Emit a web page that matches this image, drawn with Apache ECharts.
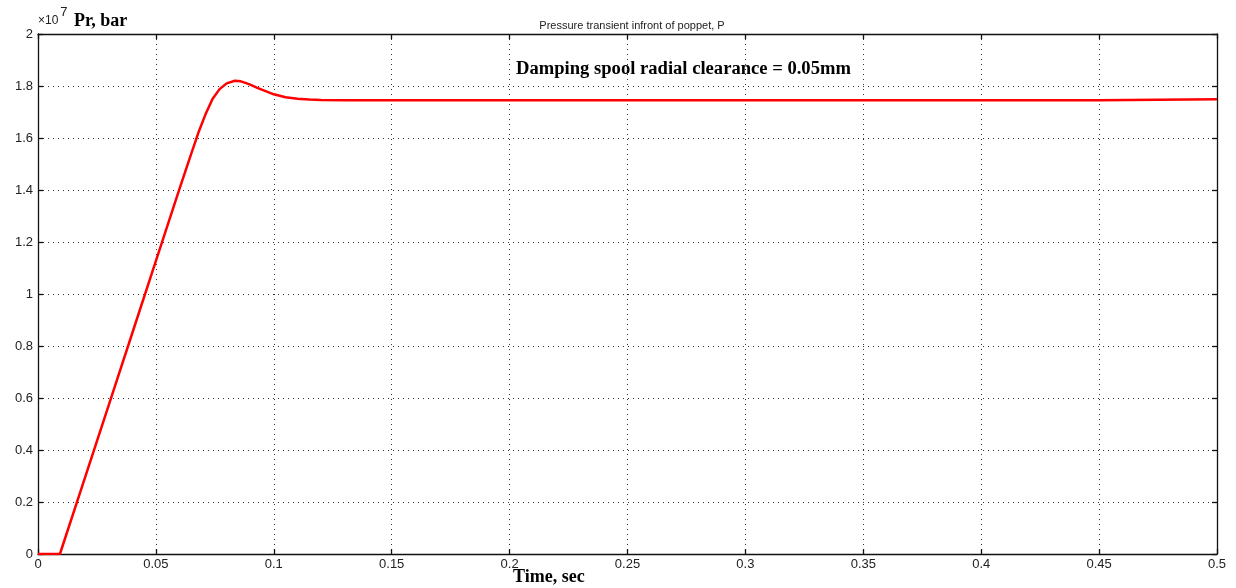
<!DOCTYPE html>
<html>
<head>
<meta charset="utf-8">
<script src="https://cdn.jsdelivr.net/npm/echarts@6/dist/echarts.min.js"></script>
<style>
html,body{margin:0;padding:0;background:#fff;}
#chart{width:1236px;height:588px;}
</style>
</head>
<body>
<div id="chart"></div>
<script>
// Time (s) and pressure (x10^7) samples
const timeSec = [0, 0.0093, 0.02, 0.03, 0.04, 0.05, 0.06, 0.065, 0.068, 0.071, 0.074, 0.077, 0.08, 0.0835, 0.086, 0.088, 0.09, 0.093, 0.096, 0.1, 0.105, 0.11, 0.115, 0.12, 0.13, 0.2, 0.3, 0.4, 0.45, 0.4502, 0.5];
const pressure = [0, 0, 0.296, 0.573, 0.85, 1.127, 1.404, 1.54, 1.62, 1.69, 1.75, 1.788, 1.81, 1.82, 1.818, 1.812, 1.805, 1.793, 1.782, 1.768, 1.757, 1.751, 1.748, 1.746, 1.745, 1.745, 1.745, 1.745, 1.745, 1.749, 1.749];
const xTicks = ["0","0.05","0.1","0.15","0.2","0.25","0.3","0.35","0.4","0.45","0.5"];
const yTicks = ["0","0.2","0.4","0.6","0.8","1","1.2","1.4","1.6","1.8","2"];
const titleText = "Pressure transient infront of poppet, P";
const annotationText = "Damping spool radial clearance = 0.05mm";
const xName = "Time, sec";
const yName = "Pr, bar";

const seriesData = timeSec.map((t, i) => [t, pressure[i]]);
const chart = echarts.init(document.getElementById('chart'), null, {renderer: 'canvas'});
const axisLine = {show: true, onZero: false, lineStyle: {color: '#111', width: 1.3}};
const tick = {show: true, inside: true, length: 5, lineStyle: {color: '#111', width: 1.3}};
const grid = {left: 38, right: 19, top: 34, bottom: 34};
const gridStyle = {show: true, lineStyle: {color: '#333', type: [1, 4], width: 1}};
const labelFont = {fontFamily: 'Liberation Sans, Arial', fontSize: 13, color: '#222'};
chart.setOption({
  animation: false,
  backgroundColor: '#fff',
  grid: grid,
  title: {
    text: titleText, left: 627, top: 15, textAlign: 'center',
    textStyle: {fontFamily: 'Liberation Sans, Arial', fontSize: 11, fontWeight: 'normal', color: '#222'}
  },
  xAxis: [{
    type: 'value', min: 0, max: 0.5, interval: 0.05, position: 'bottom',
    axisLine: axisLine, axisTick: tick,
    axisLabel: Object.assign({margin: 4, formatter: (v) => xTicks[Math.round(v / 0.05)]}, labelFont),
    splitLine: gridStyle
  }, {
    type: 'value', min: 0, max: 0.5, interval: 0.05, position: 'top',
    axisLine: axisLine, axisTick: tick,
    axisLabel: {show: false}, splitLine: {show: false}
  }],
  yAxis: [{
    type: 'value', min: 0, max: 2, interval: 0.2, position: 'left',
    axisLine: axisLine, axisTick: tick,
    axisLabel: Object.assign({margin: 5, formatter: (v) => yTicks[Math.round(v / 0.2)]}, labelFont),
    splitLine: gridStyle
  }, {
    type: 'value', min: 0, max: 2, interval: 0.2, position: 'right',
    axisLine: axisLine, axisTick: tick,
    axisLabel: {show: false}, splitLine: {show: false}
  }],
  series: [{
    type: 'line', data: seriesData, showSymbol: false, smooth: false,
    lineStyle: {color: '#ff0000', width: 2.5}, itemStyle: {color: '#ff0000'}
  }],
  graphic: [
    {type: 'text', left: 38, top: 6, style: {
      text: '{a|×10}{b|7}', rich: {
        a: {fontFamily: 'Liberation Sans, Arial', fontSize: 12, fill: '#222', verticalAlign: 'bottom', padding: [9, 0, 0, 0]},
        b: {fontFamily: 'Liberation Sans, Arial', fontSize: 13, fill: '#222', verticalAlign: 'top', padding: [0, 0, 8, 2]}
      }}},
    {type: 'text', left: 74, top: 12, style: {
      text: yName, font: 'bold 18px "Liberation Serif", "Times New Roman", serif', fill: '#000'}},
    {type: 'text', left: 516, top: 60, style: {
      text: annotationText, font: 'bold 18.6px "Liberation Serif", "Times New Roman", serif', fill: '#000'}},
    {type: 'text', left: 513, top: 568, style: {
      text: xName, font: 'bold 18px "Liberation Serif", "Times New Roman", serif', fill: '#000'}}
  ]
});
</script>
</body>
</html>
